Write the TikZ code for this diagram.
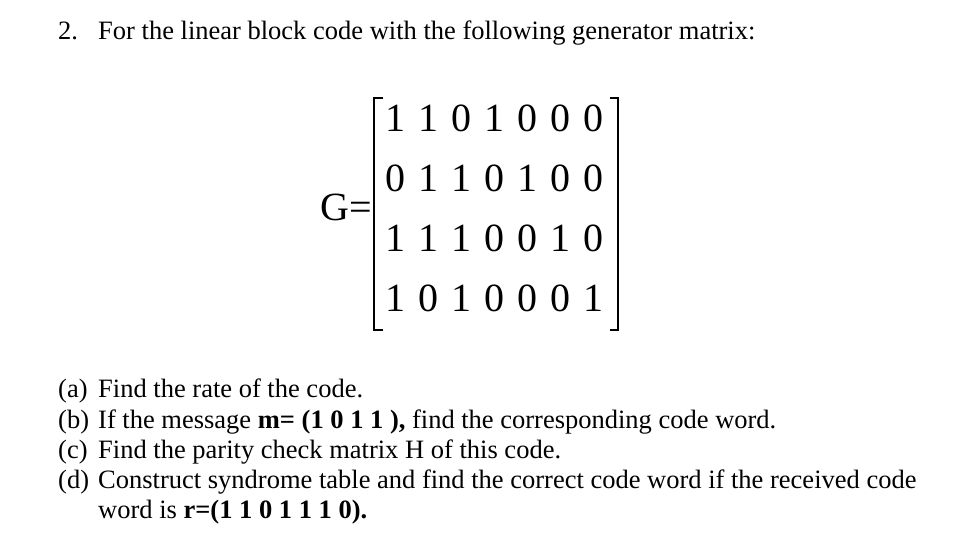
\documentclass[tikz,border=0pt]{standalone}
\usepackage{fontspec}
\setmainfont{Liberation Serif}
\tikzset{
    txt/.style={anchor=base west, inner sep=0pt, font=\fontsize{26.5}{30}\selectfont},
    bit/.style={anchor=base, inner sep=0pt, font=\fontsize{40}{44}\selectfont},
    brk/.style={line width=1.1pt}
}
\begin{document}
\begin{tikzpicture}[x=1pt,y=-1pt]
    \useasboundingbox (0,0) rectangle (980,555);

    % Heading line
    \node[txt] (num) at (58,39) {2.};
    \node[txt] (title) at (98,39) {For the linear block code with the following generator matrix:};

    % G= in front of the matrix
    \node[bit, anchor=base east] (G) at (372,220) {G=};

    % Matrix entries, one node per bit
    \foreach \row [count=\i] in {{1,1,0,1,0,0,0},{0,1,1,0,1,0,0},{1,1,1,0,0,1,0},{1,0,1,0,0,0,1}} {
        \foreach \b [count=\j] in \row {
            \node[bit] (g-\i-\j) at (362+33*\j, 71.7+60*\i) {\b};
        }
    }

    % Square brackets
    \draw[brk] (383,98) -- (374,98) -- (374,330) -- (383,330);
    \draw[brk] (610,98) -- (618,98) -- (618,330) -- (610,330);

    % Questions (a) to (d)
    \foreach \lbl/\y/\qtext in {a/397/{Find the rate of the code.},
        b/428/{If the message \textbf{m= (1 0 1 1 ),} find the corresponding code word.},
        c/458/{Find the parity check matrix H of this code.},
        d/488/{Construct syndrome table and find the correct code word if the received code}} {
        \node[txt] (lbl-\lbl) at (58,\y) {(\lbl)};
        \node[txt] (q-\lbl) at (98,\y) {\qtext};
    }
    \node[txt] (q-d2) at (98,518) {word is \textbf{r=(1 1 0 1 1 1 0).}};

\end{tikzpicture}
\end{document}
